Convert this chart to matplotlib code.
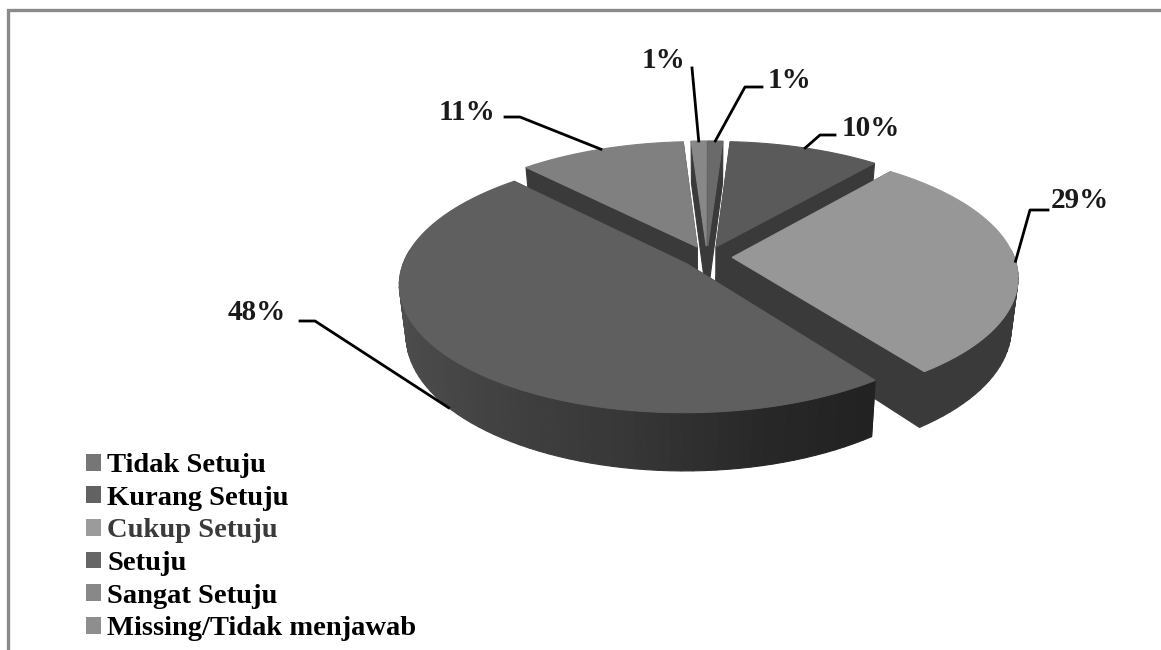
import numpy as np
import matplotlib
matplotlib.use('Agg')
import matplotlib.pyplot as plt
from matplotlib.patches import Patch

#slices in drawing order around the pie, clockwise from the top
categories = ['Tidak Setuju', 'Kurang Setuju', 'Cukup Setuju', 'Setuju', 'Sangat Setuju', 'Missing/Tidak menjawab']
percent = [1, 10, 29, 48, 11, 1]
top_colors = ['#6a6a6a', '#5a5a5a', '#979797', '#5f5f5f', '#808080', '#888888']
legend_colors = ['#767676', '#626262', '#9b9b9b', '#666666', '#888888', '#8e8e8e']
legend_text_colors = ['#000000', '#000000', '#3a3a3a', '#000000', '#000000', '#000000']

#pie geometry in pixels
CX, CY = 707, 257
RX, RY = 282, 124
PERSP = 0.15
EXPLODE = 0.089
DEPTH = 49
SHRINK = 0.022    #the underside looks a little narrower than the top
WALL = '#3a3a3a'

#where each label sits and the elbow of its leader line
label_pos = [(790, 81), (871, 128), (1080, 201), (257, 313), (467, 112), (664, 61)]
elbows = [(745, 87), (820, 135), (1030, 210), (315, 321), (520, 117), (692, 68)]
line_ends = [(762, 87), (835, 135), (1048, 210), (300, 321), (505, 117), (692, 68)]


def project(u, v, drop=0.0):
    s = 1 / (1 + PERSP * v)
    return CX + RX * u * s * (1 - SHRINK * drop), CY - RY * v * s + DEPTH * drop * s


def draw_quad(ax, pts, color):
    xs, ys = zip(*pts)
    ax.fill(xs, ys, color=color, lw=0.8)


def wall_shade(t):
    #outer wall of the big slice gets darker towards the right
    stops = [144, 165, 190, 230, 270, 317]
    shades = [0x22, 0x28, 0x38, 0x48, 0x50, 0x50]
    g = int(np.interp(t, stops, shades))
    return '#%02x%02x%02x' % (g, g, g)


def offset(start, end):
    mid = np.radians((start + end) / 2)
    return EXPLODE * np.sin(mid), EXPLODE * np.cos(mid)


def draw_slice(ax, start, end, color, shaded):
    ou, ov = offset(start, end)
    ts = np.linspace(start, end, max(int((end - start) / 2), 4))
    us = np.sin(np.radians(ts)) + ou
    vs = np.cos(np.radians(ts)) + ov

    #inner cut walls first
    for u, v in [(us[0], vs[0]), (us[-1], vs[-1])]:
        draw_quad(ax, [project(ou, ov), project(u, v), project(u, v, 1), project(ou, ov, 1)], WALL)

    #outer wall, one strip per step so the shade can change
    for i in range(len(ts) - 1):
        if vs[i] > 0.02 and vs[i + 1] > 0.02:
            continue
        c = wall_shade(ts[i]) if shaded else WALL
        draw_quad(ax, [project(us[i], vs[i]), project(us[i + 1], vs[i + 1]),
                       project(us[i + 1], vs[i + 1], 1), project(us[i], vs[i], 1)], c)

    #top face
    top = [project(ou, ov)] + [project(u, v) for u, v in zip(us, vs)]
    draw_quad(ax, top, color)


def rim_point(start, end, on_wall):
    mid = np.radians((start + end) / 2)
    k = 1 + EXPLODE
    return project(k * np.sin(mid), k * np.cos(mid), 1 if on_wall else 0)


fig = plt.figure(figsize=(11.61, 6.5), dpi=100)
ax = fig.add_axes([0, 0, 1, 1])
ax.set_xlim(0, 1161)
ax.set_ylim(650, 0)
ax.axis('off')

#frame only shows on the left and top
ax.plot([7.5, 7.5, 1161], [650, 9.5, 9.5], color='#8a8a8a', lw=2.4, solid_joinstyle='miter')

edges = np.concatenate([[0], np.cumsum(percent)]) * 3.6
order = [5, 0, 4, 1, 2, 3]    #back to front
for i in order:
    if categories[i] == 'Cukup Setuju':
        #close the small hole under the middle, behind this slice
        a = offset(edges[1], edges[2])
        b = offset(edges[2], edges[3])
        draw_quad(ax, [project(a[0], a[1], 0.6), project(b[0], b[1], 0.6),
                       project(b[0], b[1], 1), project(a[0], a[1], 1)], WALL)
    draw_slice(ax, edges[i], edges[i + 1], top_colors[i], categories[i] == 'Setuju')

for i in range(len(percent)):
    end_pt = rim_point(edges[i], edges[i + 1], categories[i] == 'Setuju')
    xs = [line_ends[i][0], elbows[i][0], end_pt[0]]
    ys = [line_ends[i][1], elbows[i][1], end_pt[1]]
    ax.plot(xs, ys, color='black', lw=2, zorder=5)
    ax.text(label_pos[i][0], label_pos[i][1], '%d%%' % percent[i], family='Liberation Serif',
            weight='bold', fontsize=21, color='#1a1a1a', ha='center', va='center', zorder=6)

handles = [Patch(facecolor=c, edgecolor='none') for c in legend_colors]
leg = ax.legend(handles, categories, loc='lower left', bbox_to_anchor=(80 / 1161, 3 / 650), frameon=False,
                prop={'family': 'Liberation Serif', 'weight': 'bold', 'size': 20.5},
                handlelength=0.53, handleheight=0.53, handletextpad=0.22, labelspacing=0.267,
                borderpad=0.2, borderaxespad=0)
for t, c in zip(leg.get_texts(), legend_text_colors):
    t.set_color(c)

fig.savefig('out.png', dpi=100)
